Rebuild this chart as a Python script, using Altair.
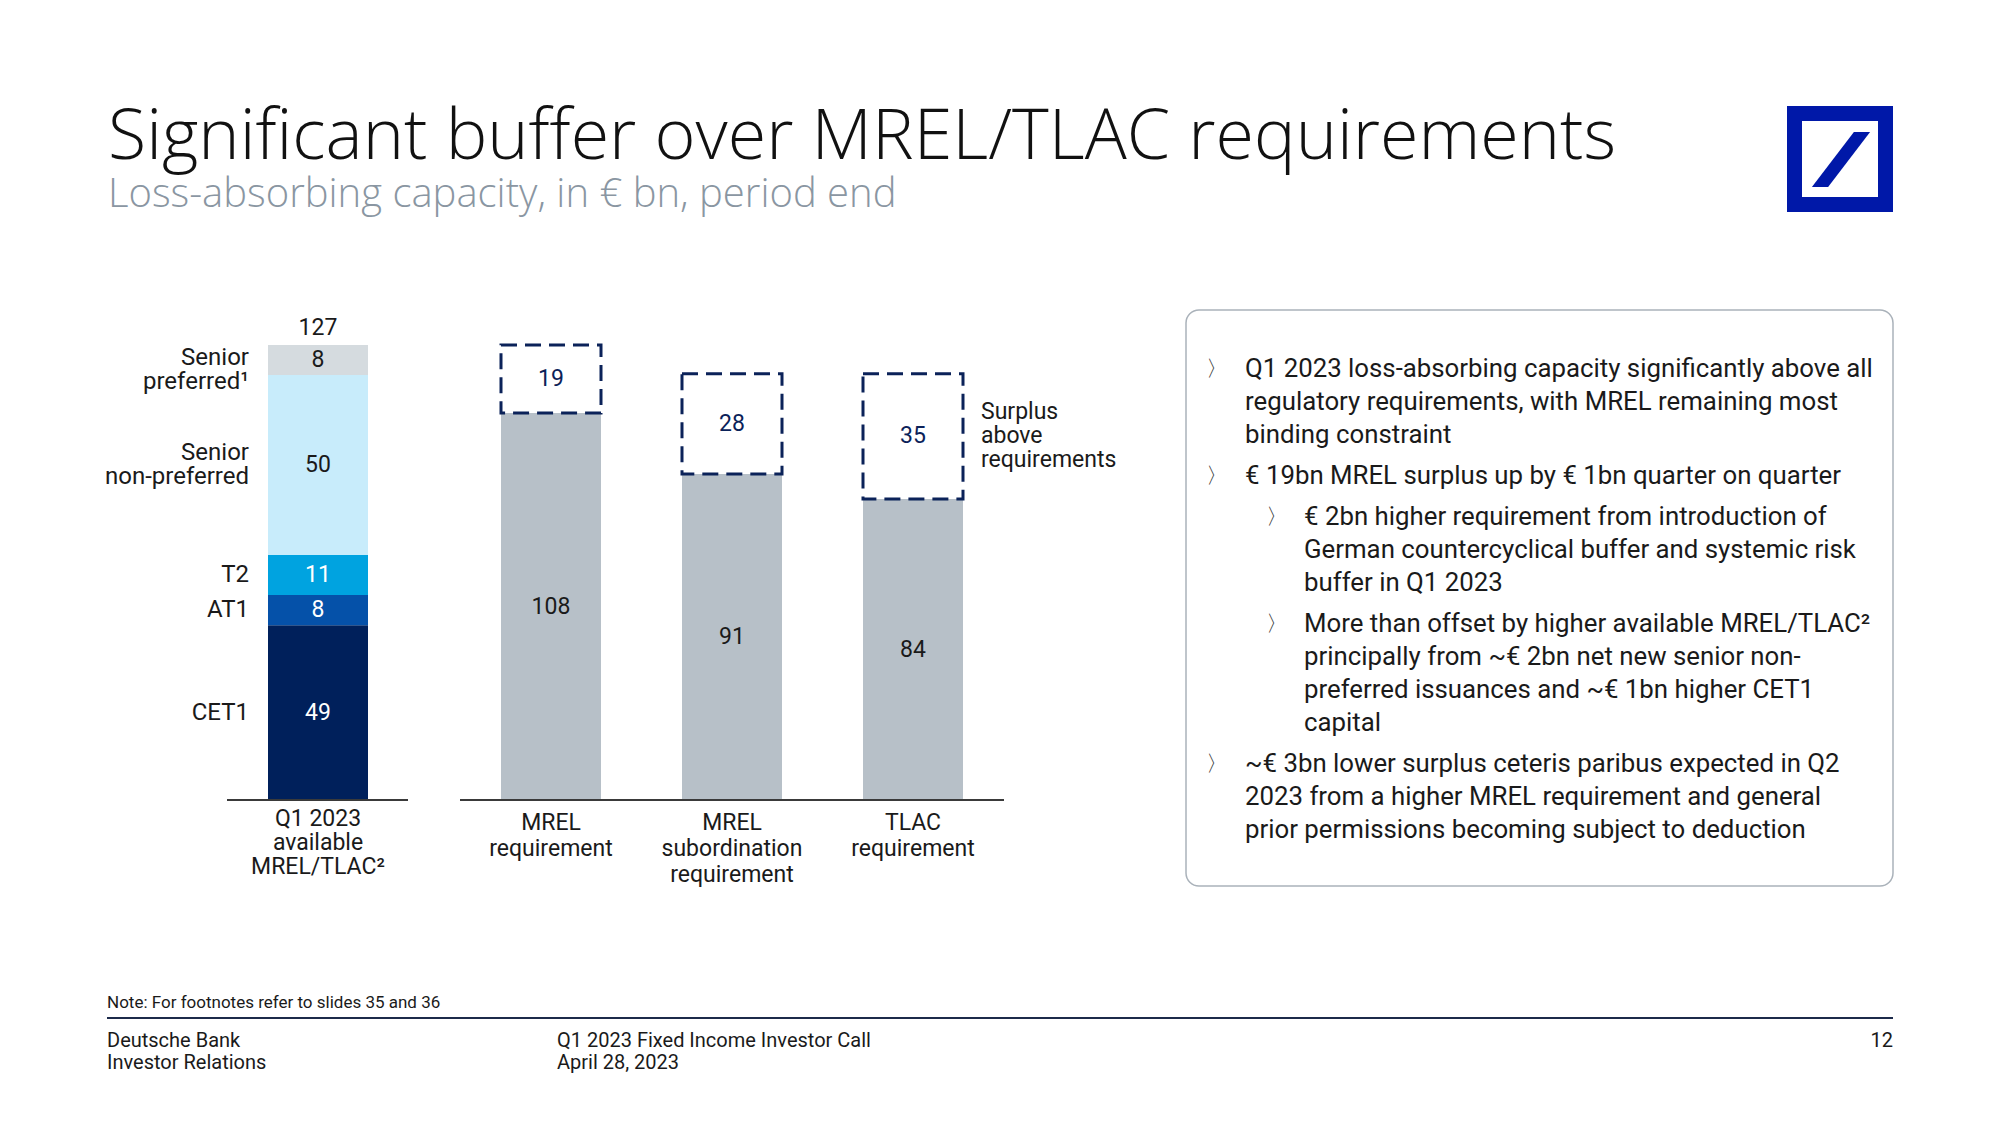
import altair as alt
import pandas as pd

# ---------------- data ----------------
TITLE = "Significant buffer over MREL/TLAC requirements"
SUBTITLE = "Loss-absorbing capacity, in € bn, period end"

stack_category = ["Q1 2023\navailable\nMREL/TLAC²"]
stack_segments = ["CET1", "AT1", "T2", "Senior\nnon-preferred", "Senior\npreferred¹"]
# segment heights (labels shown rounded)
stack_values = [48.8, 8.4, 11.2, 50.2, 8.4]

req_categories = ["MREL\nrequirement", "MREL\nsubordination\nrequirement", "TLAC\nrequirement"]
req_values = [108, 91, 84]
surplus_values = [19, 28, 35]
surplus_label = "Surplus\nabove\nrequirements"

bullet_texts = [
    "Q1 2023 loss-absorbing capacity significantly above all\nregulatory requirements, with MREL remaining most\nbinding constraint",
    "€ 19bn MREL surplus up by € 1bn quarter on quarter",
    "€ 2bn higher requirement from introduction of\nGerman countercyclical buffer and systemic risk\nbuffer in Q1 2023",
    "More than offset by higher available MREL/TLAC²\nprincipally from ~€ 2bn net new senior non-\npreferred issuances and ~€ 1bn higher CET1\ncapital",
    "~€ 3bn lower surplus ceteris paribus expected in Q2\n2023 from a higher MREL requirement and general\nprior permissions becoming subject to deduction",
]
bullet_levels = [0, 0, 1, 1, 0]

note_text = "Note: For footnotes refer to slides 35 and 36"
footer_left = "Deutsche Bank\nInvestor Relations"
footer_mid = "Q1 2023 Fixed Income Investor Call\nApril 28, 2023"
page_number = "12"

# ---------------- style ----------------
FONT = "Roboto"
HEAD_FONT = "Open Sans"
DARK = "#1a1a1a"
NAVY_DASH = "#0b2259"
seg_fills = ["#00205b", "#0551a9", "#00a3e0", "#c8ecfb", "#d5dbdf"]
seg_text = ["#ffffff", "#ffffff", "#ffffff", DARK, DARK]
GREY_BAR = "#b7c0c8"
AXIS_COLOR = "#3a3a3a"
DB_BLUE = "#0018a8"
LBL = 23

W, H = 1980, 1100

yscale = alt.Scale(domain=[0, 127], range=[792, 337], nice=False, zero=True)

# ---------------- left stacked bar ----------------
df_stack = pd.DataFrame({
    "cat": stack_category * len(stack_segments),
    "seg": stack_segments,
    "value": stack_values,
    "order": list(range(len(stack_segments))),
})

xL = alt.X("cat:N", scale=alt.Scale(type="band", domain=stack_category, range=[219.5, 400.5],
                                      paddingInner=0, paddingOuter=0.405), axis=None)

baseL = alt.Chart(df_stack).transform_stack(
    stack="value", groupby=["cat"], as_=["y0", "y1"], sort=[alt.SortField("order", order="ascending")]
).transform_calculate(mid="(datum.y0 + datum.y1) / 2")

barsL = baseL.mark_bar().encode(
    x=xL,
    y=alt.Y("y0:Q", scale=yscale, axis=None),
    y2="y1:Q",
    color=alt.Color("seg:N", scale=alt.Scale(domain=stack_segments, range=seg_fills), legend=None),
)
valsL = baseL.mark_text(font=FONT, fontSize=LBL, baseline="middle").encode(
    x=xL,
    y=alt.Y("mid:Q", scale=yscale, axis=None),
    text=alt.Text("value:Q", format=".0f"),
    color=alt.Color("seg:N", scale=alt.Scale(domain=stack_segments, range=seg_text), legend=None),
)
name_style = dict(font=FONT, fontSize=24, align="right", baseline="middle",
                  lineBreak="\n", lineHeight=24, color=DARK)
# two-line labels are centred on their segment, but kept clear of the total label above the bar
namesL1 = baseL.transform_filter("indexof(datum.seg, '\\n') < 0").mark_text(**name_style).encode(
    x=alt.value(241), y=alt.Y("mid:Q", scale=yscale, axis=None), text="seg:N")
namesL2 = baseL.transform_filter("indexof(datum.seg, '\\n') >= 0").transform_calculate(
    lab_y="min(datum.mid, 127 - 7)"
).mark_text(dy=-12, **name_style).encode(
    x=alt.value(241), y=alt.Y("lab_y:Q", scale=yscale, axis=None), text="seg:N")
totalL = alt.Chart(df_stack).transform_aggregate(
    total="sum(value)", groupby=["cat"]
).mark_text(font=FONT, fontSize=LBL, baseline="bottom", dy=-5, color=DARK).encode(
    x=xL, y=alt.Y("total:Q", scale=yscale, axis=None), text=alt.Text("total:Q", format=".0f")
)
catL = alt.Chart(pd.DataFrame({"cat": stack_category})).mark_text(
    font=FONT, fontSize=LBL, baseline="line-top", lineBreak="\n", lineHeight=24, color=DARK
).encode(x=xL, y=alt.value(799), text="cat:N")
axisL = alt.Chart(pd.DataFrame({"cat": stack_category})).mark_rule(color=AXIS_COLOR, strokeWidth=2).encode(
    x=alt.value(219), x2=alt.value(400), y=alt.YDatum(0, type="quantitative", scale=yscale)
)

left = alt.layer(barsL, valsL, namesL1, namesL2, totalL, catL, axisL).resolve_scale(color="independent")

# ---------------- right requirement bars ----------------
df_req = pd.DataFrame({"cat": req_categories, "req": req_values, "surplus": surplus_values})
xR = alt.X("cat:N", scale=alt.Scale(type="band", domain=req_categories, range=[452, 996],
                                      paddingInner=81 / 181, paddingOuter=0.2265), axis=None)
baseR = alt.Chart(df_req).transform_calculate(
    top="datum.req + datum.surplus",
    mid_req="datum.req / 2",
    mid_sur="datum.req + datum.surplus / 2",
)
barsR = baseR.mark_bar(color=GREY_BAR).encode(x=xR, y=alt.Y("req:Q", scale=yscale, axis=None))
boxR = baseR.mark_rect(fill="white", stroke=NAVY_DASH, strokeWidth=3, strokeDash=[16, 8]).encode(
    x=xR, y=alt.Y("req:Q", scale=yscale, axis=None), y2="top:Q"
)
reqTxt = baseR.mark_text(font=FONT, fontSize=LBL, baseline="middle", color=DARK).encode(
    x=xR, y=alt.Y("mid_req:Q", scale=yscale, axis=None), text="req:Q"
)
surTxt = baseR.mark_text(font=FONT, fontSize=LBL, baseline="middle", color=NAVY_DASH).encode(
    x=xR, y=alt.Y("mid_sur:Q", scale=yscale, axis=None), text="surplus:Q"
)
catR = alt.Chart(df_req).mark_text(
    font=FONT, fontSize=LBL, baseline="line-top", lineBreak="\n", lineHeight=26, color=DARK
).encode(x=xR, y=alt.value(802), text="cat:N")
axisR = alt.Chart(df_req).mark_rule(color=AXIS_COLOR, strokeWidth=2).encode(
    x=alt.value(452), x2=alt.value(996), y=alt.YDatum(0, type="quantitative", scale=yscale)
)
surLbl = alt.Chart(pd.DataFrame({"t": [surplus_label]})).mark_text(
    font=FONT, fontSize=LBL, align="left", baseline="middle", lineBreak="\n", lineHeight=24, color=DARK
).encode(x=alt.value(973), y=alt.value(404), text="t:N")

right = alt.layer(barsR, boxR, reqTxt, surTxt, catR, axisR, surLbl)


# ---------------- decorations ----------------
def txt(s, x, y, **kw):
    return alt.Chart(pd.DataFrame({"t": [s]})).mark_text(**kw).encode(
        x=alt.value(x), y=alt.value(y), text="t:N")


title = txt(TITLE, 100, 151, font=HEAD_FONT, fontSize=70, fontWeight=300, align="left",
            baseline="alphabetic", color="#111111")
subtitle = txt(SUBTITLE, 100, 199, font=HEAD_FONT, fontSize=40, fontWeight=300, align="left",
               baseline="alphabetic", color="#8a96a2")

one = pd.DataFrame({"t": [""]})
logo_box = alt.Chart(one).mark_rect(fill=None, stroke=DB_BLUE, strokeWidth=15).encode(
    x=alt.value(1786.5), x2=alt.value(1877.5), y=alt.value(105.5), y2=alt.value(196.5))
logo_slash = alt.Chart(one).mark_point(
    shape="M -0.97 0.92 L -0.43 0.92 L 0.97 -0.92 L 0.43 -0.92 Z",
    size=3600, filled=True, fill=DB_BLUE, stroke=None, opacity=1
).encode(x=alt.value(1833), y=alt.value(151.5))

panel = alt.Chart(one).mark_rect(fill=None, stroke="#aab2ba", strokeWidth=1.5, cornerRadius=13).encode(
    x=alt.value(1178), x2=alt.value(1885), y=alt.value(302), y2=alt.value(878))

LH = 33
bullet_layers = []
y_line = 369 - 8  # centre of first line (chart coordinates)
for s, lvl in zip(bullet_texts, bullet_levels):
    n = s.count("\n") + 1
    bx = 1198 if lvl == 0 else 1258
    tx = 1237 if lvl == 0 else 1296
    bullet_layers.append(txt("〉", bx, y_line, font="DejaVu Sans", fontSize=22, align="left",
                             baseline="middle", color="#333333"))
    bullet_layers.append(txt(s, tx, y_line - LH / 2, font=FONT, fontSize=25.8, align="left",
                             baseline="line-top", lineBreak="\n", lineHeight=LH, color=DARK))
    y_line += n * LH + 8

note = txt(note_text, 99, 995, font=FONT, fontSize=17, align="left", baseline="middle", color=DARK)
footer_rule = alt.Chart(one).mark_rule(color="#1c2a4a", strokeWidth=2).encode(
    x=alt.value(99), x2=alt.value(1885), y=alt.value(1010))
f_left = txt(footer_left, 99, 1022, font=FONT, fontSize=20, align="left", baseline="line-top",
             lineBreak="\n", lineHeight=22, color=DARK)
f_mid = txt(footer_mid, 549, 1022, font=FONT, fontSize=20, align="left", baseline="line-top",
            lineBreak="\n", lineHeight=22, color=DARK)
f_num = txt(page_number, 1885, 1033, font=FONT, fontSize=20, align="right", baseline="middle", color=DARK)

chart = alt.layer(
    left, right, title, subtitle, logo_box, logo_slash, panel, *bullet_layers,
    note, footer_rule, f_left, f_mid, f_num
).resolve_scale(x="independent", color="independent").properties(
    width=W, height=H, padding=0, autosize=alt.AutoSizeParams(type="none"), background="white"
).configure_view(stroke=None)

chart.save("out.html", embed_options={"renderer": "svg", "actions": False})
